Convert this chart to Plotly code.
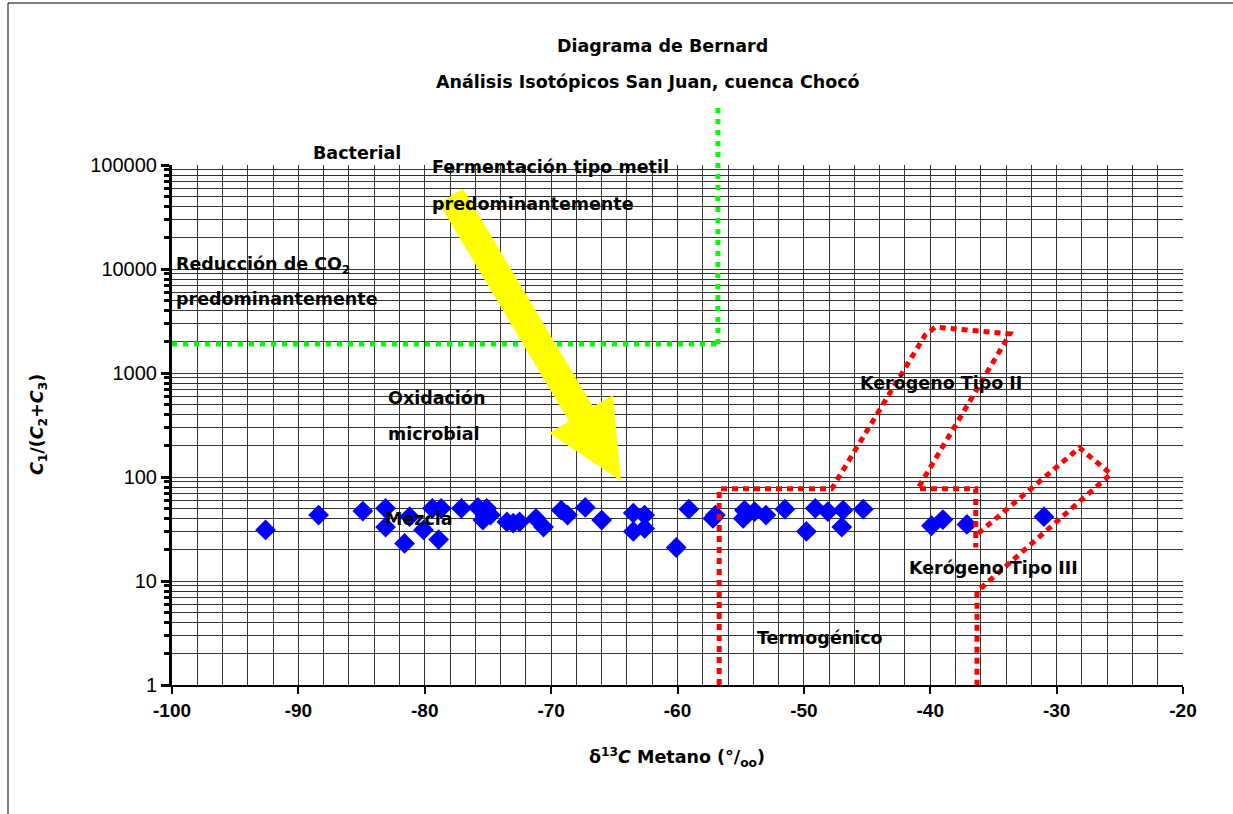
import plotly.graph_objects as go
import math

# ---- data ----
d13c = [-92.6, -88.4, -84.9, -83.1, -83.1, -81.6, -81.2, -80.1, -79.4, -78.7,
        -78.9, -77.1, -75.8, -75.1, -74.8, -75.4, -73.5, -73.0, -72.5, -71.2,
        -70.6, -69.2, -68.7, -67.3, -66.0, -63.5, -63.5, -62.6, -62.6, -59.1,
        -60.1, -57.0, -57.2, -54.7, -54.8, -53.9, -53.0, -51.5, -49.1, -49.8,
        -48.1, -46.9, -47.0, -45.3, -39.9, -39.0, -37.1, -31.0]
ratio = [31, 43, 47, 50, 33, 23, 41.5, 31, 50, 50,
         25, 50, 51, 50, 43, 38.5, 37, 36, 37, 40,
         33, 48, 43, 51, 38.5, 45, 30, 43, 32, 49,
         21, 43, 40, 48, 40, 46.5, 43, 49, 50, 30,
         46.5, 48, 33, 49, 34, 39, 35, 41.5]

# field boundaries
bact_x = [-100, -56.8]
bact_y = [1900, 1900]
thermo_x = [-56.7, -56.7, -47.8, -40.4, -39.6, -33.7, -41.0, -36.4, -36.4]
thermo_y = [1, 77, 77, 2318, 2768, 2372, 77, 77, 21]
k3_x = [-36.2, -28.2, -25.7, -36.3, -36.3]
k3_y = [28.7, 191, 107, 7.9, 1]

y_ticks = [1, 10, 100, 1000, 10000, 100000]
x_ticks = [-100, -90, -80, -70, -60, -50, -40, -30, -20]

# ---- geometry helpers (figure pixels -> paper) ----
W, H = 1233, 814
L, R, T, B = 172, 50, 165, 129
PW, PH = W - L - R, H - T - B

def px(x):
    return (x - L) / PW

def py(y):
    return (H - B - y) / PH

fig = go.Figure()

fig.add_trace(go.Scatter(x=d13c, y=ratio, mode="markers",
                         marker=dict(symbol="diamond", size=16, color="#0000ff",
                                     line=dict(width=0)),
                         showlegend=False, hoverinfo="x+y"))

red = dict(color="#ff0000", width=5, dash="6px,5px")
fig.add_trace(go.Scatter(x=thermo_x, y=thermo_y, mode="lines", line=red,
                         showlegend=False, hoverinfo="skip"))
fig.add_trace(go.Scatter(x=k3_x, y=k3_y, mode="lines", line=red,
                         showlegend=False, hoverinfo="skip"))
green = dict(color="#00ff00", width=5, dash="5px,6px")
fig.add_trace(go.Scatter(x=bact_x, y=bact_y, mode="lines", line=green,
                         showlegend=False, hoverinfo="skip"))

# vertical green line continuing above plot
fig.add_shape(type="line", xref="x", yref="paper", x0=bact_x[1], x1=bact_x[1],
              y0=math.log10(bact_y[1]) / 5, y1=py(107),
              line=green, layer="above")

# yellow arrow
tail = (451, 196)
tip = (621, 481)
dx, dy = tip[0] - tail[0], tip[1] - tail[1]
ln = math.hypot(dx, dy)
ux, uy = dx / ln, dy / ln
nx, ny = uy, -ux
hw, HW, HL = 14, 37, 78
bx, by = tip[0] - ux * HL, tip[1] - uy * HL
pts = [(tail[0] + nx * hw, tail[1] + ny * hw), (bx + nx * hw, by + ny * hw),
       (bx + nx * HW, by + ny * HW), tip, (bx - nx * HW, by - ny * HW),
       (bx - nx * hw, by - ny * hw), (tail[0] - nx * hw, tail[1] - ny * hw)]
path = "M " + " L ".join(f"{px(a):.5f} {py(b):.5f}" for a, b in pts) + " Z"
fig.add_shape(type="path", xref="paper", yref="paper", path=path,
              fillcolor="#ffff00", line=dict(width=0), layer="above")

# outer frame (left and top edges)
fig.add_shape(type="line", xref="paper", yref="paper",
              x0=px(8), x1=px(8), y0=py(830), y1=py(3),
              line=dict(color="black", width=1), layer="below")
fig.add_shape(type="line", xref="paper", yref="paper",
              x0=px(8), x1=px(1240), y0=py(3), y1=py(3),
              line=dict(color="black", width=1), layer="below")

tfont = dict(family="DejaVu Sans", size=17.5, color="black", weight="bold")

labels = [
    ("Bacterial", 311, 153),
    ("Fermentación tipo metil", 430, 167),
    ("predominantemente", 430, 204),
    ("Reducción de CO<sub>2</sub>", 174, 265),
    ("predominantemente", 174, 299),
    ("Oxidación", 386, 398),
    ("microbial", 386, 434),
    ("Mezcla", 383, 519),
    ("Kerógeno Tipo II", 858, 383),
    ("Kerógeno Tipo III", 907, 568),
    ("Termogénico", 755, 638),
]
for txt, x, y in labels:
    fig.add_annotation(text=txt, xref="paper", yref="paper", x=px(x), y=py(y),
                       xanchor="left", yanchor="middle", showarrow=False,
                       font=tfont)

fig.add_annotation(text="Diagrama de Bernard", xref="paper", yref="paper",
                   x=px(662), y=py(46), showarrow=False, font=tfont,
                   xanchor="center", yanchor="middle")
fig.add_annotation(text="Análisis Isotópicos San Juan, cuenca Chocó",
                   xref="paper", yref="paper", x=px(648), y=py(82),
                   showarrow=False, font=tfont, xanchor="center",
                   yanchor="middle")

fig.add_annotation(text="δ<sup>13</sup><i>C</i> Metano (°/<sub>oo</sub>)",
                   xref="paper", yref="paper", x=px(677), y=py(757),
                   showarrow=False, font=tfont, xanchor="center",
                   yanchor="middle")
fig.add_annotation(text="<i>C</i><sub>1</sub>/(<i>C</i><sub>2</sub>+<i>C</i><sub>3</sub>)",
                   xref="paper", yref="paper", x=px(38), y=0.5,
                   showarrow=False, font=tfont, textangle=-90,
                   xanchor="center", yanchor="middle")

fig.update_xaxes(range=[-100, -20], tickvals=x_ticks,
                 ticktext=[str(v) for v in x_ticks],
                 showgrid=True, gridcolor="#333333", gridwidth=1,
                 minor=dict(dtick=2, tick0=-100, showgrid=True,
                            gridcolor="#333333", gridwidth=1,
                            ticks=""),
                 ticks="outside", ticklen=7, tickwidth=2, tickcolor="black",
                 showline=True, linecolor="black", linewidth=2,
                 zeroline=False,
                 tickfont=dict(family="Liberation Sans", size=19,
                               color="black", weight="bold"))
fig.update_yaxes(type="log", range=[0, 5], tickvals=y_ticks,
                 ticktext=[str(v) for v in y_ticks],
                 showgrid=True, gridcolor="#333333", gridwidth=1,
                 minor=dict(dtick="D1", showgrid=True, gridcolor="#333333",
                            gridwidth=1, ticks="outside", ticklen=5,
                            tickwidth=3, tickcolor="black"),
                 ticks="outside", ticklen=8, tickwidth=3, tickcolor="black",
                 showline=True, linecolor="black", linewidth=3,
                 zeroline=False,
                 tickfont=dict(family="Liberation Sans", size=20,
                               color="black"))

fig.update_layout(width=W, height=H,
                  margin=dict(l=L, r=R, t=T, b=B),
                  paper_bgcolor="white", plot_bgcolor="white",
                  showlegend=False)

fig.write_html("out.html", config={"displayModeBar": False},
               post_script="document.body.style.margin='0';document.body.style.padding='0';")
